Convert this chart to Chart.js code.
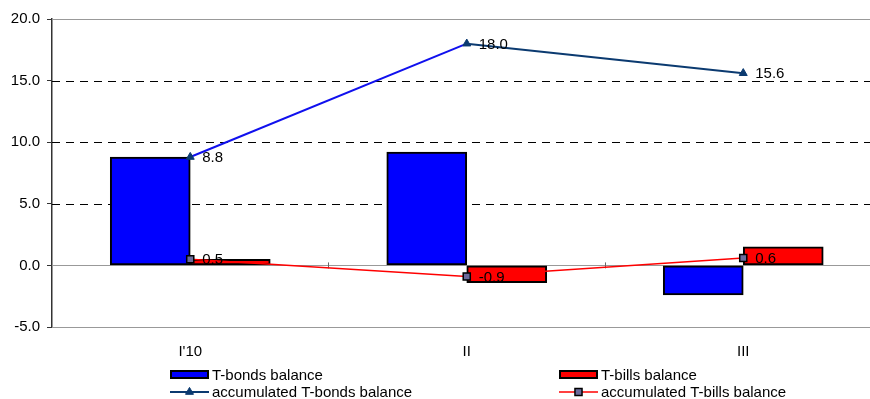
<!DOCTYPE html>
<html>
<head>
<meta charset="utf-8">
<script src="https://cdn.jsdelivr.net/npm/chart.js@4/dist/chart.umd.min.js"></script>
<style>
  html, body { margin: 0; padding: 0; background: #fff; }
  #wrap { width: 870px; height: 399px; }
</style>
</head>
<body>
<div id="wrap"><canvas id="chart1" width="870" height="399"></canvas></div>
<script>
const ctx = document.getElementById('chart1');

const categories = ["I'10", 'II', 'III'];
const tBonds = [8.8, 9.2, -2.4];
const tBills = [0.5, -1.4, 1.5];
const accBonds = [8.8, 18.0, 15.6];
const accBills = [0.5, -0.9, 0.6];
const yTicks = [-5, 0, 5, 10, 15, 20];

const FONT = '"Liberation Sans", Arial, sans-serif';
const navy = '#0b3a70';
const solidAt = [-5, 0, 20];

const toPoints = (arr) => arr.map((v, i) => ({ x: i, y: v }));

// horizontal grid: solid grey at the frame and zero, dashed black between
const hGrid = {
  id: 'hGrid',
  beforeDatasetsDraw(chart) {
    const area = chart.chartArea, y = chart.scales.y, x = chart.scales.x;
    const c = chart.ctx;
    c.save();
    c.lineWidth = 1;
    yTicks.forEach((v) => {
      const py = Math.round(y.getPixelForValue(v)) + 0.5;
      const solid = solidAt.includes(v);
      c.strokeStyle = solid ? '#999' : '#000';
      c.setLineDash(solid ? [] : [8, 6]);
      c.beginPath();
      c.moveTo(area.left, py);
      c.lineTo(area.right, py);
      c.stroke();
    });
    // small marks where the categories meet, on the zero line
    c.setLineDash([]);
    c.strokeStyle = '#666';
    const y0 = y.getPixelForValue(0);
    for (let i = 0; i < categories.length; i++) {
      const px = Math.round(x.getPixelForValue(i + 0.5)) + 0.5;
      c.beginPath();
      c.moveTo(px, y0 - 3);
      c.lineTo(px, y0 + 3);
      c.stroke();
    }
    c.restore();
  }
};

// value labels next to the accumulated markers
const valueLabels = {
  id: 'valueLabels',
  afterDatasetsDraw(chart) {
    const c = chart.ctx;
    c.save();
    c.font = '15px ' + FONT;
    c.fillStyle = '#000';
    c.textAlign = 'left';
    c.textBaseline = 'middle';
    chart.data.datasets.forEach((ds, di) => {
      if (ds.type !== 'line') return;
      chart.getDatasetMeta(di).data.forEach((pt, i) => {
        c.fillText(ds.data[i].y.toFixed(1), pt.x + 12, pt.y + 1);
      });
    });
    c.restore();
  }
};

// two-column legend under the axis
const legendBox = {
  id: 'legendBox',
  afterDraw(chart) {
    const c = chart.ctx;
    const cols = [170, 559];
    const rows = [375, 392];
    const ds = chart.data.datasets;
    const items = [
      [ds[0], 0, 0], [ds[1], 1, 0], [ds[2], 0, 1], [ds[3], 1, 1]
    ];
    c.save();
    c.font = '15px ' + FONT;
    c.textBaseline = 'middle';
    c.textAlign = 'left';
    items.forEach(([d, col, row]) => {
      const x = cols[col], y = rows[row];
      if (d.type === 'line') {
        c.strokeStyle = d.borderColor;
        c.lineWidth = d.borderWidth;
        c.beginPath();
        c.moveTo(x, y);
        c.lineTo(x + 39, y);
        c.stroke();
        c.fillStyle = d.pointBackgroundColor;
        c.strokeStyle = d.pointBorderColor;
        c.lineWidth = d.pointBorderWidth;
        Chart.helpers.drawPoint(c, {
          pointStyle: d.pointStyle,
          radius: d.pointRadius,
          borderWidth: d.pointBorderWidth,
          rotation: 0
        }, x + 19.5, y);
      } else {
        c.fillStyle = d.backgroundColor;
        c.strokeStyle = '#000';
        c.lineWidth = 2;
        c.fillRect(x + 1, y - 4, 37, 7);
        c.strokeRect(x + 1, y - 4, 37, 7);
      }
      c.fillStyle = '#000';
      c.fillText(d.label, x + 42, y + 1);
    });
    c.restore();
  }
};

const config = {
  type: 'bar',
  data: {
    datasets: [
      {
        label: 'T-bonds balance',
        data: toPoints(tBonds),
        backgroundColor: '#0000ff',
        borderColor: '#000',
        borderWidth: 2,
        borderSkipped: false,
        barThickness: 80,
        order: 2
      },
      {
        label: 'T-bills balance',
        data: toPoints(tBills),
        backgroundColor: '#ff0000',
        borderColor: '#000',
        borderWidth: 2,
        borderSkipped: false,
        barThickness: 80,
        order: 2
      },
      {
        type: 'line',
        label: 'accumulated T-bonds balance',
        data: toPoints(accBonds),
        borderColor: navy,
        borderWidth: 2,
        segment: {
          borderColor: (s) => s.p0DataIndex === 0 ? '#1010ee' : navy
        },
        pointStyle: 'triangle',
        pointRadius: 4.6,
        pointBorderWidth: 1,
        pointBackgroundColor: navy,
        pointBorderColor: navy,
        tension: 0,
        order: 0
      },
      {
        type: 'line',
        label: 'accumulated T-bills balance',
        data: toPoints(accBills),
        borderColor: '#ff0000',
        borderWidth: 1.5,
        pointStyle: 'rect',
        pointRadius: 5,
        pointBorderWidth: 1.5,
        pointBackgroundColor: '#6b6b9c',
        pointBorderColor: '#000',
        tension: 0,
        order: 0
      }
    ]
  },
  options: {
    responsive: false,
    animation: false,
    events: [],
    layout: { autoPadding: false, padding: { top: 19, right: 0, bottom: 0, left: 0 } },
    plugins: {
      legend: { display: false },
      tooltip: { enabled: false }
    },
    scales: {
      x: {
        type: 'linear',
        offset: false,
        min: -0.5,
        max: -0.5 + 818 / 276.5,
        afterBuildTicks: (scale) => {
          scale.ticks = categories.map((c, i) => ({ value: i }));
        },
        afterFit: (scale) => { scale.height = 72; },
        grid: { display: false, drawTicks: false, offset: false },
        border: { display: false },
        ticks: {
          padding: 16,
          autoSkip: false,
          maxRotation: 0,
          color: '#000',
          font: { family: FONT, size: 15 },
          callback: (v) => categories[v]
        }
      },
      y: {
        min: -5,
        max: 20,
        afterBuildTicks: (scale) => {
          scale.ticks = yTicks.map((v) => ({ value: v }));
        },
        afterFit: (scale) => { scale.width = 52; },
        border: { display: true, color: '#333', width: 1.5 },
        grid: {
          drawOnChartArea: false,
          tickLength: 5,
          tickColor: '#333',
          lineWidth: 1
        },
        ticks: {
          padding: 7,
          color: '#000',
          font: { family: FONT, size: 15 },
          callback: (v) => Number(v).toFixed(1)
        }
      }
    }
  },
  plugins: [hGrid, valueLabels, legendBox]
};

new Chart(ctx, config);
</script>
</body>
</html>
